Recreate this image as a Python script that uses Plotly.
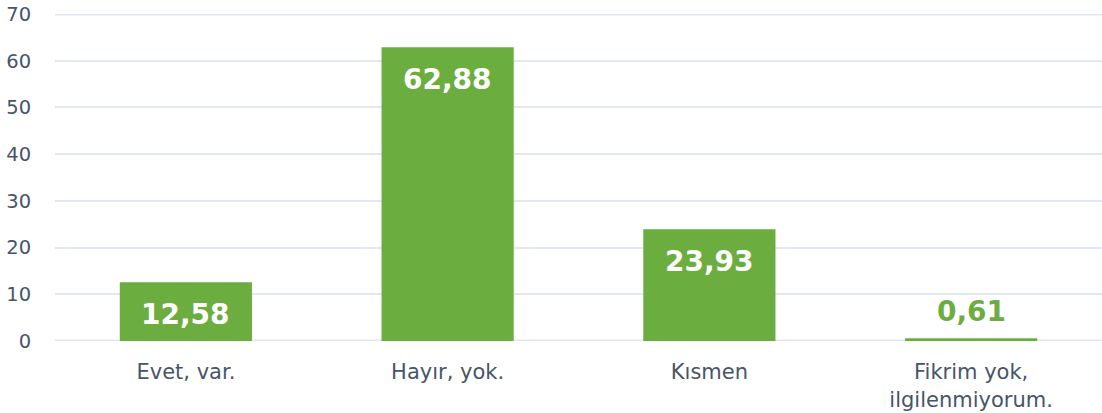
import plotly.graph_objects as go

categories = ["Evet, var.", "Hayır, yok.", "Kısmen", "Fikrim yok,<br>ilgilenmiyorum."]
values = [12.58, 62.88, 23.93, 0.61]
labels = ["12,58", "62,88", "23,93", "0,61"]
y_ticks = [0, 10, 20, 30, 40, 50, 60, 70]

bar_color = "#6cad40"
text_color = "#475569"
grid_color = "#e2e8f0"
font_family = "DejaVu Sans"

fig = go.Figure()
fig.add_trace(go.Bar(
    x=categories, y=values, width=0.505,
    marker=dict(color=bar_color, line=dict(width=0)),
    hoverinfo="skip",
))

# make sure the gridlines at both ends of the value axis are visible
for t in (y_ticks[0], y_ticks[-1]):
    fig.add_hline(y=t, line_color=grid_color, line_width=3, layer="below")

for cat, v, lab in zip(categories, values, labels):
    if v > 5:
        fig.add_annotation(x=cat, y=v, text=lab, showarrow=False, yanchor="top", yshift=-14,
                           font=dict(family=font_family, size=28, color="white", weight="bold"))
    else:
        fig.add_annotation(x=cat, y=v, text=lab, showarrow=False, yanchor="bottom", yshift=8,
                           font=dict(family=font_family, size=28, color=bar_color, weight="bold"))

fig.update_layout(
    width=1102, height=413,
    margin=dict(l=55, r=0, t=14, b=72, autoexpand=False),
    plot_bgcolor="white", paper_bgcolor="white",
    showlegend=False,
    font=dict(family=font_family, size=20, color=text_color),
    xaxis=dict(showgrid=False, showline=False, zeroline=False, automargin=False,
               ticks="outside", ticklen=12, tickcolor="rgba(0,0,0,0)",
               tickfont=dict(size=21, color=text_color)),
    yaxis=dict(range=[0, 70], tickvals=y_ticks, showgrid=True, gridcolor=grid_color, gridwidth=1.5,
               zeroline=False, showline=False, automargin=False,
               ticks="outside", ticklen=19, tickcolor="rgba(0,0,0,0)",
               tickfont=dict(size=19.5, color=text_color)),
)

fig.write_html("out.html", config={"displayModeBar": False},
               post_script="document.body.style.margin='0';document.body.style.overflow='hidden';")
